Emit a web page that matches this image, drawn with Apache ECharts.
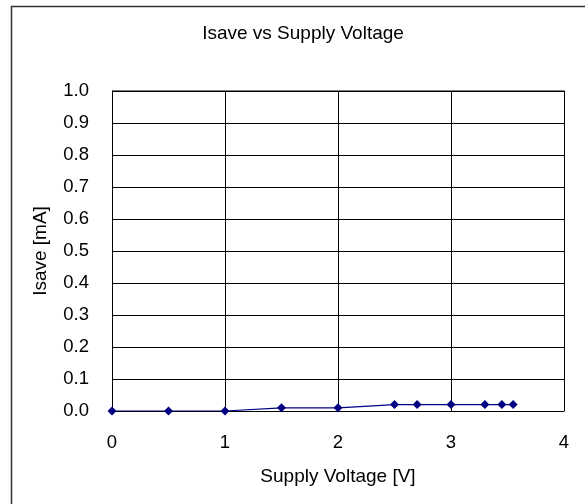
<!DOCTYPE html>
<html>
<head>
<meta charset="utf-8">
<script src="https://cdn.jsdelivr.net/npm/echarts@6/dist/echarts.min.js"></script>
<style>
  html, body { margin: 0; padding: 0; background: #fff; }
  #chart { width: 585px; height: 504px; }
</style>
</head>
<body>
<div id="chart"></div>
<script>
// 数据
const voltage = [0, 0.5, 1, 1.5, 2, 2.5, 2.7, 3, 3.3, 3.45, 3.55];
const isave = [0, 0, 0, 0.01, 0.01, 0.02, 0.02, 0.02, 0.02, 0.02, 0.02];
const yTicks = [0, 0.1, 0.2, 0.3, 0.4, 0.5, 0.6, 0.7, 0.8, 0.9, 1.0];

const font = 'Liberation Sans, Arial, sans-serif';
const chart = echarts.init(document.getElementById('chart'));

chart.setOption({
  animation: false,
  title: {
    text: 'Isave vs Supply Voltage',
    left: 298, top: 19, textAlign: 'center',
    textStyle: { fontFamily: font, fontSize: 19, fontWeight: 'normal', color: '#000' }
  },
  graphic: [
    { // 外框 (右下超出画面)
      type: 'rect', z: -1,
      shape: { x: 11.5, y: 6.5, width: 700, height: 700 },
      style: { fill: 'none', stroke: '#333', lineWidth: 1.5 }
    },
    { // 绘图区右/上边框
      type: 'polyline', z: 0,
      shape: { points: [[112, 90.5], [564.5, 90.5], [564.5, 411]] },
      style: { fill: 'none', stroke: '#808080', lineWidth: 1 }
    }
  ],
  grid: { left: 112, top: 91, right: 21, bottom: 93, containLabel: false },
  xAxis: {
    type: 'value', min: 0, max: 4, interval: 1,
    name: 'Supply Voltage [V]', nameLocation: 'middle', nameGap: 56,
    nameTextStyle: { fontFamily: font, fontSize: 19, color: '#000' },
    axisLine: { lineStyle: { color: '#000', width: 1 } },
    axisTick: { show: false },
    axisLabel: { margin: 22, fontFamily: font, fontSize: 18.5, color: '#000' },
    splitLine: { show: true, lineStyle: { color: '#000', width: 1 } }
  },
  yAxis: {
    type: 'value', min: 0, max: 1, interval: 0.1,
    name: 'Isave [mA]', nameLocation: 'middle', nameGap: 62,
    nameTextStyle: { fontFamily: font, fontSize: 19, color: '#000' },
    axisLine: { show: true, lineStyle: { color: '#000', width: 1 } },
    axisTick: { show: false },
    axisLabel: {
      margin: 23, fontFamily: font, fontSize: 18.5, color: '#000',
      formatter: v => yTicks.includes(Math.round(v * 10) / 10) ? v.toFixed(1) : ''
    },
    splitLine: { show: true, lineStyle: { color: '#000', width: 1 } }
  },
  series: [{
    type: 'line',
    data: voltage.map((v, i) => [v, isave[i]]),
    symbol: 'diamond', symbolSize: 9,
    itemStyle: { color: '#000080' },
    lineStyle: { color: '#000080', width: 1.2 }
  }]
});
</script>
</body>
</html>
